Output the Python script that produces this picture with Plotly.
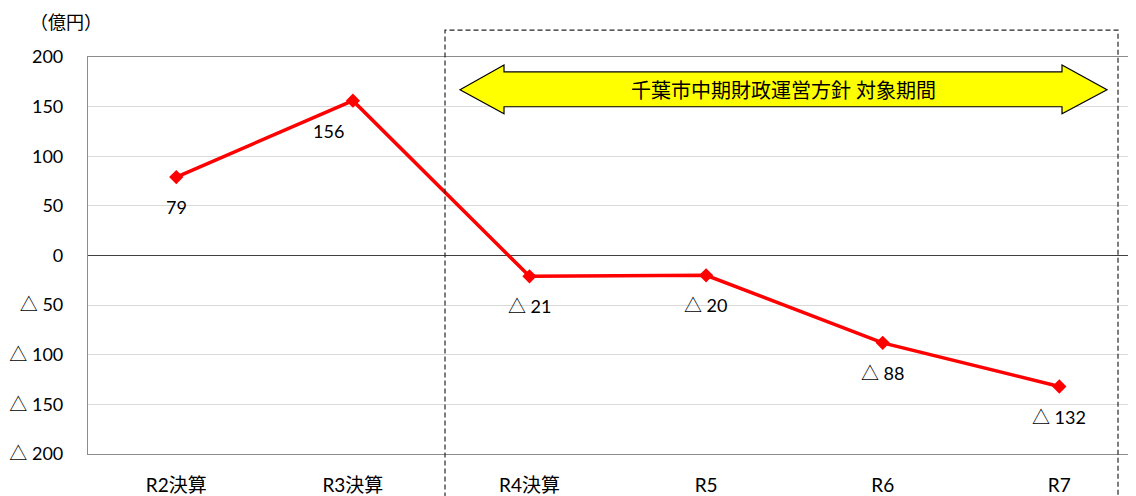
import plotly.graph_objects as go

categories = ["R2決算", "R3決算", "R4決算", "R5", "R6", "R7"]
values = [79, 156, -21, -20, -88, -132]
point_labels = ["79", "156", "△ 21", "△ 20", "△ 88", "△ 132"]
label_xshift = [0, -24, 0, 0, 0, 0]
ytick_vals = [200, 150, 100, 50, 0, -50, -100, -150, -200]
ytick_text = ["200", "150", "100", "50", "0", "△ 50", "△ 100", "△ 150", "△ 200"]

OFF = 8  # page body margin
W, H = 1136 - OFF, 496 - OFF
L, T, B = 88 - OFF, 57 - OFF, 40
R = 0
pw = W - L - R
ph = H - T - B

def px(x):
    return (x - OFF - L) / pw

def py(y):
    return (H - B - (y - OFF)) / ph

FONT = "Lato, Noto Sans CJK JP"

fig = go.Figure()
fig.add_trace(go.Scatter(
    x=list(range(len(categories))), y=values,
    mode="lines+markers",
    line=dict(color="#FF0000", width=3.5),
    marker=dict(symbol="diamond", size=11, color="#FF0000"),
    cliponaxis=False, showlegend=False,
))

annotations = []
for i, (v, t) in enumerate(zip(values, point_labels)):
    annotations.append(dict(x=i, y=v, xref="x", yref="y", text=t, showarrow=False,
                            xanchor="center", yanchor="middle", yshift=-30,
                            xshift=label_xshift[i],
                            font=dict(size=18, color="#000000", family=FONT)))

shapes = []
shapes.append(dict(type="rect", xref="paper", yref="paper",
                   x0=px(445), x1=px(1118), y0=py(520), y1=py(30),
                   line=dict(color="#262626", width=1.2, dash="5px,3px"),
                   fillcolor="rgba(0,0,0,0)", layer="above"))
pts = [(460, 90), (504, 65), (504, 72), (1062, 72), (1062, 65), (1107, 90),
       (1062, 114), (1062, 107), (504, 107), (504, 114)]
path = "M " + " L ".join(f"{px(a):.5f},{py(b):.5f}" for a, b in pts) + " Z"
shapes.append(dict(type="path", xref="paper", yref="paper", path=path,
                   fillcolor="#FFFF00", line=dict(color="#000000", width=1.2), layer="above"))

annotations += [
    dict(text="千葉市中期財政運営方針 対象期間", xref="paper", yref="paper",
         x=px(783), y=py(90), showarrow=False, xanchor="center", yanchor="middle",
         font=dict(size=20, color="#000000", family=FONT)),
    dict(text="（億円）", xref="paper", yref="paper", x=px(28), y=py(21),
         showarrow=False, xanchor="left", yanchor="middle",
         font=dict(size=18, color="#000000", family="Noto Sans CJK JP")),
]

fig.update_layout(
    width=W, height=H,
    margin=dict(l=L, r=R, t=T, b=B),
    plot_bgcolor="white", paper_bgcolor="white",
    shapes=shapes, annotations=annotations,
    xaxis=dict(tickmode="array", tickvals=list(range(len(categories))), ticktext=categories,
               range=[-0.5, -0.5 + pw / 176.6], showgrid=False, zeroline=False,
               showline=True, mirror=True, linecolor="#8C8C8C", linewidth=1.2,
               ticks="", ticklabelstandoff=14,
               tickfont=dict(size=19, color="#000000", family=FONT)),
    yaxis=dict(tickmode="array", tickvals=ytick_vals, ticktext=ytick_text,
               range=[-200, 200], showgrid=True, gridcolor="#D9D9D9", gridwidth=1,
               zeroline=True, zerolinecolor="#404040", zerolinewidth=1.2,
               showline=True, linecolor="#8C8C8C", linewidth=1.2,
               ticks="", ticklabelstandoff=20,
               tickfont=dict(size=18, color="#000000", family=FONT)),
)

fig.write_html("out.html")
